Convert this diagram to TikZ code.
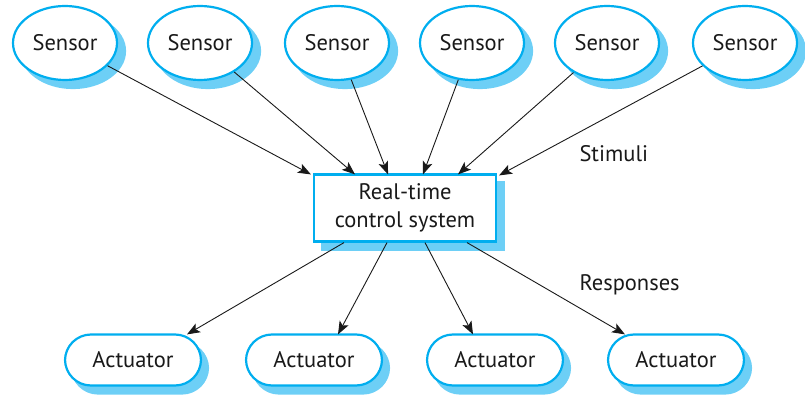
\documentclass[tikz,border=0pt]{standalone}
\usepackage{fontspec}
\setmainfont{PT Sans}
\usetikzlibrary{arrows.meta,shapes.geometric,calc}
\definecolor{edgeblue}{HTML}{00AEEF}
\definecolor{shadowblue}{HTML}{6DCFF6}
\begin{document}
\begin{tikzpicture}[x=1pt,y=-1pt,
  txt/.style={font=\fontsize{22.5}{28}\selectfont, text=black!90},
  sensor/.style={ellipse, draw=edgeblue, line width=2.2pt, fill=white, minimum width=104pt, minimum height=74pt, inner sep=0pt, txt,
     preaction={fill=shadowblue, draw=shadowblue, line width=2.2pt, transform canvas={shift={(8pt,-8pt)}}}},
  ctrl/.style={rectangle, draw=edgeblue, line width=2.2pt, fill=white, minimum width=182pt, minimum height=67pt, inner sep=0pt, align=center, txt,
     preaction={fill=shadowblue, draw=shadowblue, line width=2.2pt, transform canvas={shift={(8pt,-8pt)}}}},
  actuator/.style={rectangle, rounded corners=26pt, draw=edgeblue, line width=2.2pt, fill=white, minimum width=136pt, minimum height=51pt, inner sep=0pt, txt,
     preaction={fill=shadowblue, draw=shadowblue, line width=2.2pt, transform canvas={shift={(7pt,-8pt)}}}},
  arr/.style={-{Stealth[length=13pt,width=10pt,inset=3pt]}, line width=0.9pt, black!90},
  lbl/.style={txt, anchor=west}
]
\useasboundingbox (0,0) rectangle (805,395);
\node[sensor] (s1) at (65,43) {Sensor};
\node[sensor] (s2) at (200,43) {Sensor};
\node[sensor] (s3) at (337,43) {Sensor};
\node[sensor] (s4) at (472,43) {Sensor};
\node[sensor] (s5) at (607,43) {Sensor};
\node[sensor] (s6) at (745,43) {Sensor};
\node[ctrl] (c) at (405,208) {Real-time\\control system};
\node[actuator] (a1) at (133,360) {Actuator};
\node[actuator] (a2) at (314,360) {Actuator};
\node[actuator] (a3) at (495,360) {Actuator};
\node[actuator] (a4) at (676,360) {Actuator};
\coordinate (t1) at ([xshift=-2pt,yshift=-1pt]c.north west);
\coordinate (t2) at ([xshift=-50pt,yshift=-1pt]c.north);
\coordinate (t3) at ([xshift=-17pt,yshift=-1pt]c.north);
\coordinate (t4) at ([xshift=18pt,yshift=-1pt]c.north);
\coordinate (t5) at ([xshift=53pt,yshift=-1pt]c.north);
\coordinate (t6) at ([xshift=2pt,yshift=-2pt]c.north east);
\foreach \i in {1,...,6} { \draw[arr] (s\i) -- (t\i); }
\coordinate (b1) at ([xshift=-61pt]c.south);
\coordinate (b2) at ([xshift=-18pt]c.south);
\coordinate (b3) at ([xshift=20pt]c.south);
\coordinate (b4) at ([xshift=62pt]c.south);
\coordinate (e1) at ([xshift=54pt,yshift=-1pt]a1.north);
\coordinate (e2) at ([xshift=24pt,yshift=-1pt]a2.north);
\coordinate (e3) at ([xshift=-22pt,yshift=-1pt]a3.north);
\coordinate (e4) at ([xshift=-51pt,yshift=-1pt]a4.north);
\foreach \i in {1,...,4} { \draw[arr] (b\i) -- (e\i); }
\node[lbl] (stim) at (576,154) {Stimuli};
\node[lbl] (resp) at (576,285) {Responses};
\end{tikzpicture}
\end{document}
